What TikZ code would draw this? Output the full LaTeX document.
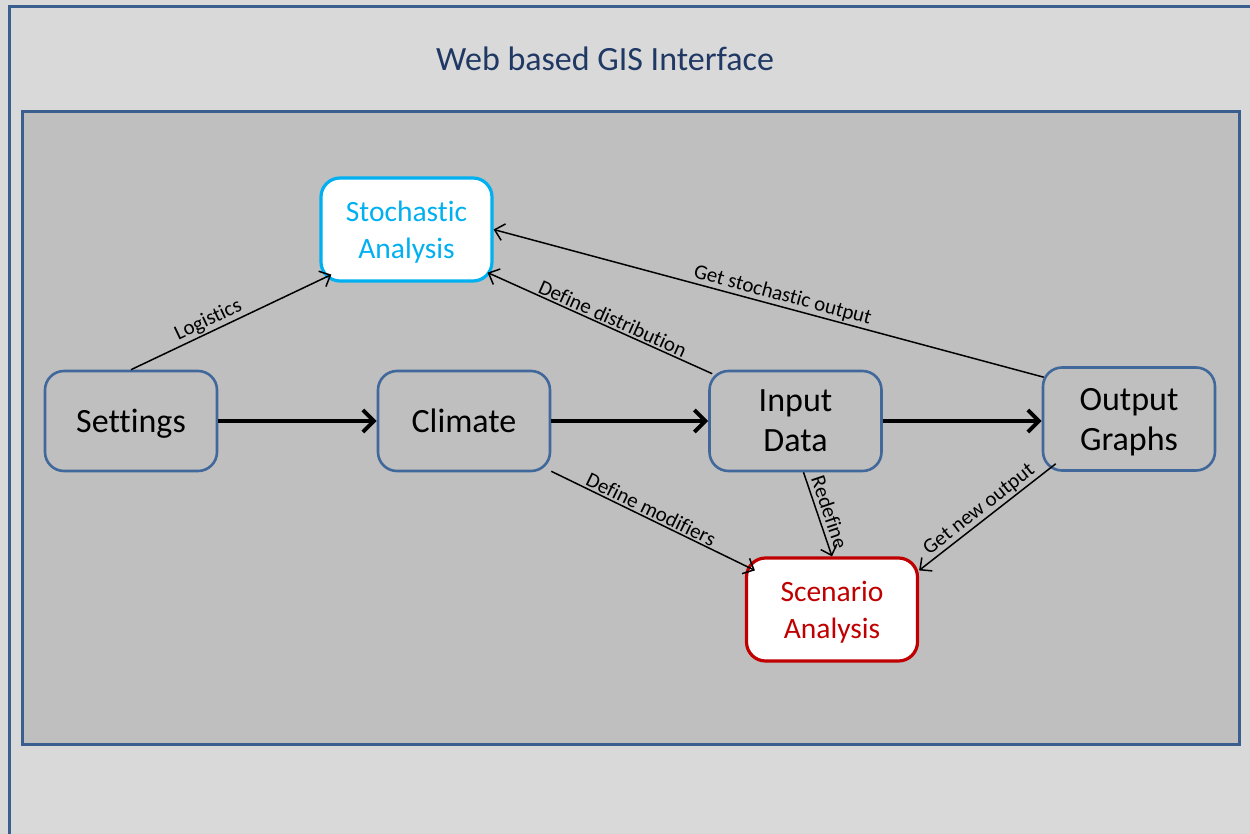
\documentclass[tikz,border=0pt]{standalone}
\usepackage{fontspec}
\setmainfont{Carlito}[Ligatures=NoCommon]
\usetikzlibrary{arrows.meta,calc}

\definecolor{pagebg}{HTML}{D9D9D9}
\definecolor{panelbg}{HTML}{BFBFBF}
\definecolor{framecol}{HTML}{3A5F8E}
\definecolor{boxcol}{HTML}{41689A}
\definecolor{titlecol}{HTML}{1F3864}
\definecolor{stochcol}{HTML}{00B0F0}
\definecolor{scencol}{HTML}{C00000}

\tikzset{
  stepbox/.style={draw=boxcol, line width=2.6pt, rounded corners=19pt,
    minimum width=172pt, minimum height=100pt, align=center, text depth=0pt,
    font=\fontsize{34}{40}\selectfont, text=black},
  colbox/.style={fill=white, line width=3.2pt, rounded corners=19pt,
    minimum width=171pt, minimum height=103pt, align=center, text depth=0pt,
    font=\fontsize{29.5}{37}\selectfont},
  flow/.style={line width=4pt, -{Straight Barb[length=11pt,width=22pt,line width=4pt]}},
  link/.style={line width=1.5pt, -{Straight Barb[length=9pt,width=17pt,line width=1.5pt]}},
  lbl/.style={font=\fontsize{21}{25}\selectfont, sloped, above, inner sep=1.5pt}
}

\begin{document}
\begin{tikzpicture}[x=1pt,y=1pt]
  \useasboundingbox (0,0) rectangle (1250,-834);
  \clip (0,0) rectangle (1250,-834);
  % page background and frames
  \fill[pagebg] (0,0) rectangle (1250,-834);
  \draw[framecol, line width=3pt] (9,-6.5) rectangle (1275,-860);
  \draw[framecol, fill=panelbg, line width=3.5pt] (22.5,-111.5) rectangle (1239.5,-744.5);

  \node[text=titlecol, font=\fontsize{34}{40}\selectfont] (title) at (605,-59) {Web based GIS Interface};

  % main workflow boxes
  \node[stepbox] (settings) at (131,-421) {Settings};
  \node[stepbox] (climate) at (464,-421) {Climate};
  \node[stepbox] (input) at (795.5,-421) {Input\\Data};
  \node[stepbox, minimum height=103pt] (output) at (1129,-419) {Output\\Graphs};

  % analysis boxes
  \node[colbox, draw=stochcol, text=stochcol] (stoch) at (406.5,-229.5) {Stochastic\\Analysis};
  \node[colbox, draw=scencol, text=scencol] (scen) at (832,-609.5) {Scenario\\Analysis};

  % main flow
  \draw[flow] (settings.east) -- (climate.west);
  \draw[flow] (climate.east) -- (input.west);
  \draw[flow] (input.east) -- (input.east -| output.west);

  % feedback and analysis links
  \draw[link] (settings.north) -- node[lbl, pos=0.41] {Logistics} ($(stoch.south west)+(12,8)$);
  \draw[link] ($(input.north west)+(4,-4)$) -- node[lbl, pos=0.46] {Define distribution} ($(stoch.south east)+(-6,10)$);
  \draw[link] ($(output.north west)+(2,-11)$) -- node[lbl, pos=0.48] {Get stochastic output} (stoch.east);
  \draw[link] ($(climate.south east)+(0,1)$) -- node[lbl, pos=0.47] {Define modifiers} ($(scen.north west)+(10,-14)$);
  \draw[link] ($(input.south)+(8,0)$) -- node[lbl, pos=0.52, above=2.5pt] {Redefine} (scen.north);
  \draw[link] ($(output.south west)+(14,8)$) -- node[lbl, pos=0.51] {Get new output} ($(scen.north east)+(0,-14)$);
\end{tikzpicture}
\end{document}
